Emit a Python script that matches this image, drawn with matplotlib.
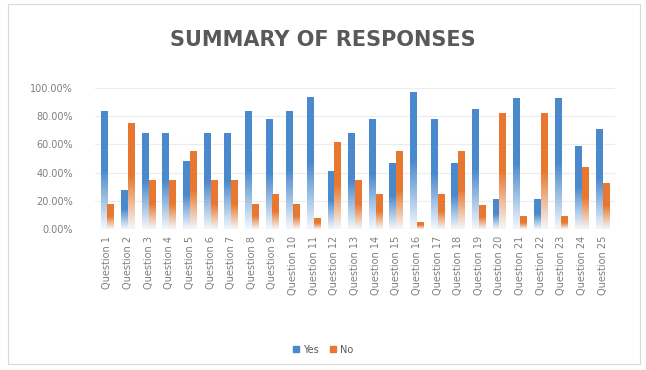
import numpy as np
import matplotlib
matplotlib.use("Agg")
import matplotlib.pyplot as plt
from matplotlib.colors import LinearSegmentedColormap
from matplotlib.patches import Rectangle

# data (percent)
questions = [f"Question {i}" for i in range(1, 26)]
yes_pct = [84, 28, 68, 68, 48, 68, 68, 84, 78, 84, 94, 41, 68, 78, 47,
           97, 78, 47, 85, 21, 93, 21, 93, 59, 71]
no_pct = [18, 75, 35, 35, 55, 35, 35, 18, 25, 18, 8, 62, 35, 25, 55,
          5, 25, 55, 17, 82, 9, 82, 9, 44, 33]

blue = "#4a89cc"
orange = "#e8782f"

fig = plt.figure(figsize=(6.46, 3.70), dpi=100)
ax = fig.add_axes([0.147, 0.381, 0.805, 0.381])

x = np.arange(len(questions))
w = 0.33


def gradient_bars(xs, vals, color):
    bars = ax.bar(xs, vals, width=w, color="none", edgecolor="none")
    cmap = LinearSegmentedColormap.from_list("g", ["#f4f8fc", color, color])
    grad = np.linspace(0, 1, 256).reshape(-1, 1)
    for b in bars:
        x0, y0 = b.get_x(), b.get_y()
        im = ax.imshow(grad, cmap=cmap, aspect="auto", origin="lower",
                       interpolation="bilinear",
                       extent=[x0, x0 + b.get_width(), y0, y0 + b.get_height()],
                       zorder=2)
        im.set_clip_path(b)
    return bars


gradient_bars(x - w / 2, yes_pct, blue)
gradient_bars(x + w / 2, no_pct, orange)

ax.set_xlim(-0.6, len(questions) - 0.4)
ax.set_ylim(0, 100)
ax.set_yticks(range(0, 101, 20))
ax.set_yticklabels([f"{v:.2f}%" for v in range(0, 101, 20)], fontsize=7, color="#7f7f7f")
ax.set_xticks(x)
ax.set_xticklabels(questions, rotation=90, fontsize=7, color="#7f7f7f")
ax.tick_params(axis="x", length=0, pad=5)
ax.tick_params(axis="y", length=0, pad=16)
ax.grid(axis="y", color="#ececec", lw=0.8, zorder=0)
ax.set_axisbelow(True)
for s in ax.spines.values():
    s.set_visible(False)
ax.axhline(0, color="#d9d9d9", lw=0.8, zorder=3)

fig.text(0.5, 0.892, "SUMMARY OF RESPONSES", ha="center", va="center",
         fontsize=15, fontweight="bold", color="#595959")

# legend
handles = [Rectangle((0, 0), 1, 1, color=blue), Rectangle((0, 0), 1, 1, color=orange)]
fig.legend(handles, ["Yes", "No"], loc="center", bbox_to_anchor=(0.5, 0.055),
           ncol=2, frameon=False, fontsize=7, handlelength=0.6, handleheight=0.6,
           handletextpad=0.4, columnspacing=1.2, labelcolor="#595959")

# faint chart border
fig.patches.append(Rectangle((0.012, 0.015), 0.978, 0.975, transform=fig.transFigure,
                             fill=False, edgecolor="#d9d9d9", lw=0.8))

fig.savefig("out.png", dpi=100)
